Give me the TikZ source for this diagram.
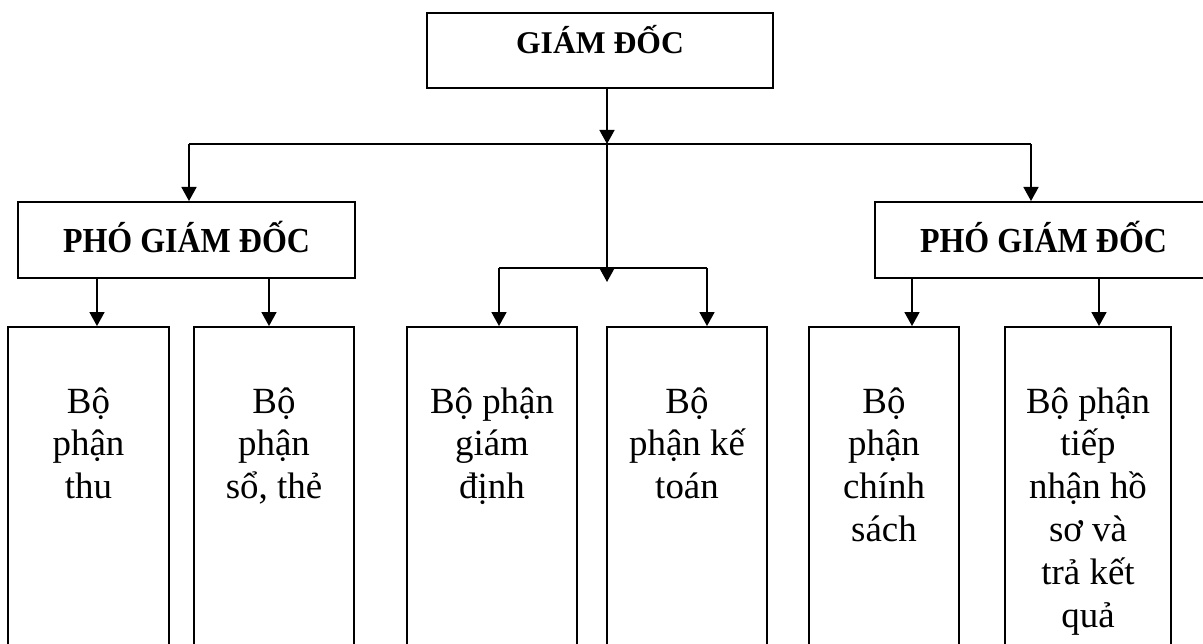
\documentclass[tikz,border=0pt]{standalone}
\usepackage{fontspec}
\setmainfont{Liberation Serif}
\usepackage{graphicx}
\usetikzlibrary{arrows.meta, positioning, calc}

\tikzset{
  box/.style={draw, line width=1.1pt, inner sep=0pt},
  link/.style={line width=1.1pt},
  arr/.style={link, -{Triangle[width=8.5pt, length=8pt]}},
  headbox/.style={box, minimum height=1.52cm, font=\fontsize{20}{24}\selectfont\bfseries, text height=0.48cm, text depth=0cm},
  unitbox/.style={box, minimum height=7.06cm},
  lbl/.style={font=\fontsize{21}{24.4}\selectfont, align=center, anchor=north, inner sep=0pt},
}

\begin{document}
\begin{tikzpicture}[x=0.02cm, y=-0.02cm]
  \useasboundingbox (0,0) rectangle (1203,643);

  % ===== Giám đốc =====
  \node[box, minimum width=6.92cm, minimum height=1.5cm, font=\fontsize{18}{21}\selectfont\bfseries,
        text height=0.45cm, text depth=0.35cm] (gd) at (600,50.5) {GIÁM ĐỐC};

  % ===== Phó giám đốc =====
  \node[headbox, minimum width=6.74cm] (pgdl) at (186.5,240) {\scalebox{0.91}[1]{PHÓ GIÁM ĐỐC}};
  \node[headbox, minimum width=6.74cm] (pgdr) at (1043.5,240) {\scalebox{0.91}[1]{PHÓ GIÁM ĐỐC}};

  % ===== Bộ phận =====
  \node[unitbox, minimum width=3.22cm] (b1) at (88.5,503.5) {};
  \node[unitbox, minimum width=3.2cm]  (b2) at (274,503.5) {};
  \node[unitbox, minimum width=3.4cm]  (b3) at (492,503.5) {};
  \node[unitbox, minimum width=3.2cm]  (b4) at (687,503.5) {};
  \node[unitbox, minimum width=3.0cm]  (b5) at (884,503.5) {};
  \node[unitbox, minimum width=3.32cm] (b6) at (1088,503.5) {};

  \node[lbl] (t1) at (88.5,387) {Bộ\\phận\\thu};
  \node[lbl] (t2) at (274,387) {Bộ\\phận\\sổ, thẻ};
  \node[lbl] (t3) at (492,387) {Bộ phận\\giám\\định};
  \node[lbl] (t4) at (687,387) {Bộ\\phận kế\\toán};
  \node[lbl] (t5) at (884,387) {Bộ\\phận\\chính\\sách};
  \node[lbl] (t6) at (1088,387) {Bộ phận\\tiếp\\nhận hồ\\sơ và\\trả kết\\quả};

  % ===== Đường nối =====
  \coordinate (j1) at (607,144);
  \coordinate (j2) at (607,282);
  \coordinate (l1) at (189,144);
  \coordinate (r1) at (1031,144);
  \coordinate (l2) at (499,268);
  \coordinate (r2) at (707,268);

  \draw[arr] (gd.south -| j1) -- (j1);
  \draw[arr] (j1) -- (j2);
  \draw[link] (l1) -- (r1);
  \draw[arr] (l1) -- (l1 |- pgdl.north);
  \draw[arr] (r1) -- (r1 |- pgdr.north);

  \draw[link] (l2) -- (r2);
  \draw[arr] (l2) -- (l2 |- b3.north);
  \draw[arr] (r2) -- (r2 |- b4.north);

  \coordinate (a1) at (97,278);
  \coordinate (a2) at (269,278);
  \coordinate (a5) at (912,278);
  \coordinate (a6) at (1099,278);
  \draw[arr] (a1) -- (a1 |- b1.north);
  \draw[arr] (a2) -- (a2 |- b2.north);
  \draw[arr] (a5) -- (a5 |- b5.north);
  \draw[arr] (a6) -- (a6 |- b6.north);
\end{tikzpicture}
\end{document}
